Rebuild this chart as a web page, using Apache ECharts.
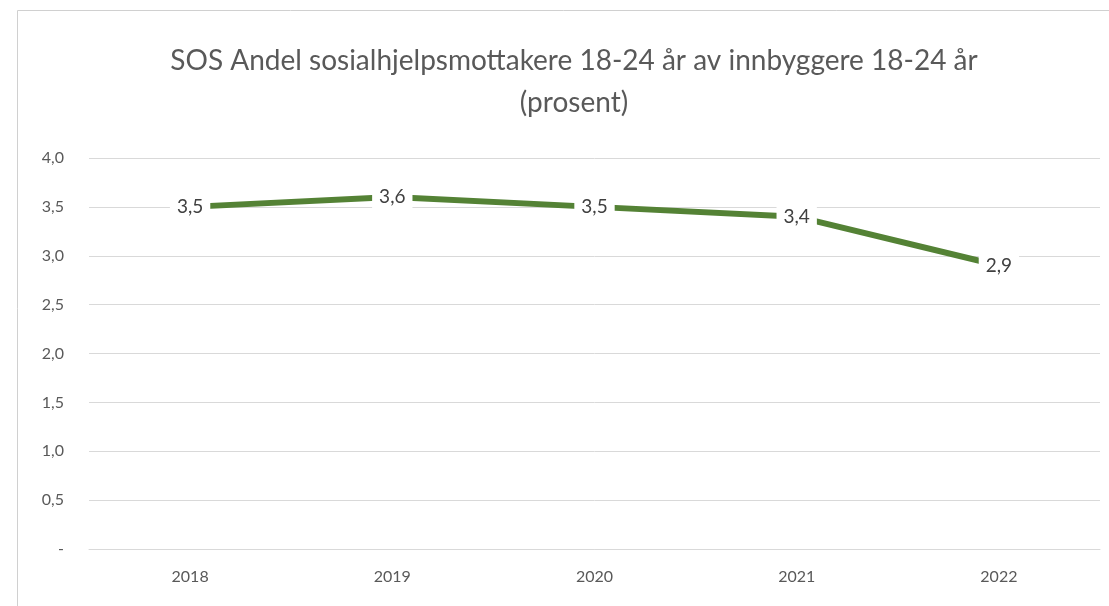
<!DOCTYPE html>
<html>
<head>
<meta charset="utf-8">
<script src="https://cdn.jsdelivr.net/npm/echarts@6/dist/echarts.min.js"></script>
<style>
  html, body { margin: 0; padding: 0; background: #fff; }
  #chart { width: 1109px; height: 606px; }
</style>
</head>
<body>
<div id="chart"></div>
<script>
let years = ['2018', '2019', '2020', '2021', '2022'];
let andel = [3.5, 3.6, 3.5, 3.4, 2.9];
let titleText = 'SOS Andel sosialhjelpsmottakere 18-24 år av innbyggere 18-24 år\n(prosent)';

function komma(v) {
    return v.toFixed(1).replace('.', ',');
}

let chart = echarts.init(document.getElementById('chart'));
let option = {
    animation: false,
    textStyle: { fontFamily: 'Lato' },
    title: {
        text: titleText,
        left: 569,
        top: 35,
        textAlign: 'center',
        textStyle: {
            fontFamily: 'Lato',
            fontSize: 28,
            fontWeight: 'normal',
            color: '#595959',
            lineHeight: 42
        }
    },
    graphic: [ {
        type: 'rect',
        shape: { x: 17.5, y: 10.5, width: 1200, height: 700 },
        style: { fill: 'none', stroke: '#d0d0d0', lineWidth: 1 },
        silent: true
    } ],
    grid: { left: 89, right: 9, top: 158, bottom: 57 },
    xAxis: {
        type: 'category',
        data: years,
        axisLine: { lineStyle: { color: '#d9d9d9' } },
        axisTick: { show: false },
        axisLabel: { color: '#595959', fontSize: 16, margin: 20 }
    },
    yAxis: {
        type: 'value',
        min: 0,
        max: 4,
        interval: 0.5,
        axisLine: { show: false },
        axisTick: { show: false },
        splitLine: { lineStyle: { color: '#d9d9d9', width: 1 } },
        axisLabel: {
            color: '#595959',
            fontSize: 16,
            margin: 25,
            formatter: function (v) { return v === 0 ? '-' : komma(v); }
        }
    },
    series: [ {
        type: 'line',
        data: andel,
        symbol: 'circle',
        symbolSize: 0,
        showSymbol: true,
        itemStyle: { color: '#548235' },
        lineStyle: { color: '#548235', width: 6 },
        label: {
            show: true,
            position: 'inside',
            color: '#404040',
            fontSize: 19,
            backgroundColor: '#fff',
            padding: [4, 7],
            formatter: function (p) { return komma(p.value); }
        }
    } ]
};
chart.setOption(option);
</script>
</body>
</html>
